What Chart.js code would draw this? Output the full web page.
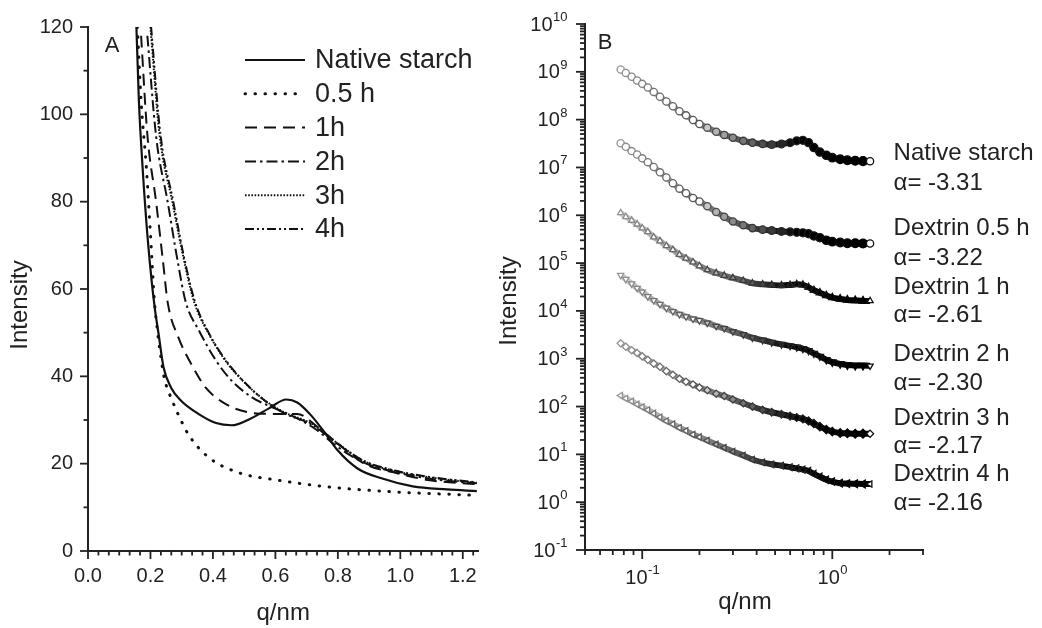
<!DOCTYPE html>
<html>
<head>
<meta charset="utf-8">
<script src="https://cdn.jsdelivr.net/npm/chart.js@4.4.1/dist/chart.umd.min.js"></script>
<style>
  html,body{margin:0;padding:0;background:#fff}
  #wrap{position:relative;width:1042px;height:628px;overflow:hidden;background:#fff}
  #cA{position:absolute;left:0;top:0}
  #cB{position:absolute;left:490px;top:0}
</style>
</head>
<body>
<div id="wrap">
  <canvas id="cA" width="490" height="628"></canvas>
  <canvas id="cB" width="552" height="628"></canvas>
</div>
<script>
// ── PANEL A : linear SAXS curves ────────────────────────────────────────────
const namesA = ['Native starch', '0.5 h', '1h', '2h', '3h', '4h'];
const xTicksA = [0, 0.2, 0.4, 0.6, 0.8, 1.0, 1.2];
const yTicksA = [0, 20, 40, 60, 80, 100, 120];

const qNativeA = [0.155, 0.163, 0.175, 0.19, 0.205, 0.215, 0.226, 0.242, 0.266, 0.298, 0.356, 0.41, 0.46, 0.52, 0.578, 0.635, 0.67, 0.715, 0.76, 0.8, 0.863, 0.937, 1.04, 1.15, 1.245];
const iNativeA = [120, 103, 87.6, 72.5, 61, 55, 49.7, 42, 37.4, 34.4, 31.3, 29.3, 28.8, 30.3, 32.6, 34.7, 34, 31, 26.9, 23, 18.9, 16.7, 14.8, 14.1, 13.7];
const q05A = [0.158, 0.17, 0.187, 0.2, 0.213, 0.223, 0.233, 0.244, 0.27, 0.298, 0.323, 0.387, 0.48, 0.61, 0.78, 0.99, 1.22, 1.245];
const i05A = [120, 103, 87.6, 72.5, 57, 50, 44.5, 39.7, 34.4, 29.9, 26.5, 21.4, 18, 16.2, 14.6, 13.5, 12.8, 12.7];
const q1A = [0.17, 0.19, 0.218, 0.24, 0.255, 0.29, 0.33, 0.377, 0.44, 0.51, 0.59, 0.67, 0.735, 0.8, 0.885, 0.99, 1.095, 1.245];
const i1A = [118, 95.4, 80, 66.4, 57, 48.8, 42.9, 37.4, 33.7, 31.8, 31.4, 31.4, 28.4, 24.6, 20, 17.8, 16.2, 15.3];
const q2A = [0.19, 0.218, 0.255, 0.287, 0.313, 0.356, 0.41, 0.46, 0.525, 0.59, 0.652, 0.727, 0.8, 0.885, 0.99, 1.1, 1.245];
const i2A = [118, 95, 80, 66.4, 57, 50.4, 43.6, 39, 35.2, 32.9, 31, 28, 23.8, 20.2, 18, 16.5, 15.5];
const q3A = [0.2, 0.229, 0.27, 0.308, 0.34, 0.387, 0.44, 0.505, 0.568, 0.63, 0.715, 0.8, 0.885, 0.99, 1.1, 1.245];
const i3A = [120, 95.4, 80, 66.4, 57, 49.7, 43.6, 38.3, 34.4, 31.7, 29.2, 24.6, 20.5, 18.2, 16.8, 15.6];
const q4A = [0.202, 0.232, 0.273, 0.31, 0.343, 0.39, 0.445, 0.51, 0.57, 0.63, 0.715, 0.8, 0.885, 0.99, 1.1, 1.245];
const i4A = [120, 95.4, 80, 66.4, 57, 49.5, 43.3, 38, 34.2, 31.5, 29, 24.5, 20.6, 18.3, 16.9, 15.7];

// ── PANEL B : log-log curves, stacked ───────────────────────────────────────
const namesB = ['Native starch', 'Dextrin 0.5 h', 'Dextrin 1 h', 'Dextrin 2 h', 'Dextrin 3 h', 'Dextrin 4 h'];
const alphaB = ['α= -3.31', 'α= -3.22', 'α= -2.61', 'α= -2.30', 'α= -2.17', 'α= -2.16'];
const yExpB = [-1, 0, 1, 2, 3, 4, 5, 6, 7, 8, 9, 10];
const xExpB = [-1, 0];

const qB = [0.077, 0.082, 0.088, 0.094, 0.1, 0.107, 0.115, 0.124, 0.134, 0.145, 0.157, 0.17, 0.185, 0.2, 0.22, 0.245, 0.27, 0.3, 0.34, 0.38, 0.43, 0.48, 0.54, 0.6, 0.65, 0.7, 0.75, 0.8, 0.86, 0.93, 1.0, 1.1, 1.2, 1.32, 1.45, 1.58];
const iNativeB = [1.12e9, 9.5e8, 7.9e8, 6.6e8, 5.6e8, 4.7e8, 3.8e8, 3.0e8, 2.4e8, 1.9e8, 1.5e8, 1.23e8, 9.8e7, 8.1e7, 6.8e7, 5.6e7, 4.8e7, 4.2e7, 3.6e7, 3.3e7, 3.1e7, 3.0e7, 3.1e7, 3.3e7, 3.6e7, 3.7e7, 3.3e7, 2.6e7, 2.1e7, 1.8e7, 1.6e7, 1.48e7, 1.41e7, 1.38e7, 1.36e7, 1.35e7];
const i05B = [3.2e7, 2.7e7, 2.2e7, 1.86e7, 1.55e7, 1.29e7, 1.02e7, 7.9e6, 6.2e6, 4.7e6, 3.6e6, 2.9e6, 2.3e6, 1.95e6, 1.55e6, 1.17e6, 9.3e5, 7.4e5, 6.2e5, 5.4e5, 5.0e5, 4.8e5, 4.6e5, 4.5e5, 4.4e5, 4.3e5, 4.1e5, 3.7e5, 3.4e5, 3.0e5, 2.8e5, 2.7e5, 2.6e5, 2.6e5, 2.57e5, 2.57e5];
const i1B = [1.12e6, 9.3e5, 7.8e5, 6.5e5, 5.4e5, 4.5e5, 3.5e5, 2.9e5, 2.3e5, 1.9e5, 1.5e5, 1.26e5, 1.05e5, 8.7e4, 7.2e4, 6.2e4, 5.5e4, 4.9e4, 4.3e4, 3.8e4, 3.6e4, 3.5e4, 3.4e4, 3.5e4, 3.6e4, 3.5e4, 3.1e4, 2.7e4, 2.4e4, 2.1e4, 1.9e4, 1.78e4, 1.7e4, 1.66e4, 1.62e4, 1.62e4];
const i2B = [5.6e4, 4.6e4, 3.7e4, 3.0e4, 2.5e4, 2.0e4, 1.66e4, 1.38e4, 1.15e4, 9.8e3, 8.5e3, 7.6e3, 6.8e3, 6.3e3, 5.6e3, 4.8e3, 4.3e3, 3.7e3, 3.2e3, 2.75e3, 2.45e3, 2.2e3, 2.0e3, 1.86e3, 1.74e3, 1.62e3, 1.48e3, 1.29e3, 1.12e3, 950, 850, 780, 740, 720, 720, 710];
const i3B = [2100, 1780, 1510, 1320, 1120, 950, 790, 680, 550, 460, 380, 330, 290, 250, 220, 186, 166, 141, 117, 100, 85, 76, 69, 63, 59, 55, 50, 44, 38, 33, 30, 28, 27.5, 27, 27, 27];
const i4B = [170, 148, 129, 112, 98, 85, 72, 60, 50, 43, 36, 31, 26, 23, 19.5, 16.2, 13.8, 11.5, 9.5, 7.8, 6.8, 6.2, 5.8, 5.4, 5.1, 4.8, 4.5, 3.9, 3.4, 2.95, 2.7, 2.5, 2.45, 2.43, 2.4, 2.4];

// where the text labels of panel B sit (q, intensity)
const labelQB = 2.1;
const nameAtB = [2.0e7, 5.25e5, 3.1e4, 1.26e3, 57, 3.9];
const alphaAtB = [4.7e6, 1.23e5, 7.9e3, 309, 14.8, 0.95];

const FONT = '"Liberation Sans", Arial, sans-serif';
const INK = '#222';
Chart.defaults.font.family = FONT;
Chart.defaults.color = INK;

const pts = (xs, ys) => xs.map((x, i) => ({x, y: ys[i]}));

// tick marks + free text, drawn on top of each panel
function decorPlugin(spec) {
  return {
    id: 'decor',
    afterDraw(chart) {
      const ctx = chart.ctx;
      ctx.save();
      ctx.strokeStyle = INK;
      ctx.lineWidth = 1.8;
      for (const id of Object.keys(spec.ticks)) {
        const s = chart.scales[id], t = spec.ticks[id];
        const mark = (v, len) => {
          const p = s.getPixelForValue(v);
          ctx.beginPath();
          if (s.isHorizontal()) { ctx.moveTo(p, s.top); ctx.lineTo(p, s.top + len); }
          else { ctx.moveTo(s.right, p); ctx.lineTo(s.right - len, p); }
          ctx.stroke();
        };
        t.minor.forEach(v => mark(v, t.len[1]));
        t.major.forEach(v => mark(v, t.len[0]));
      }
      spec.extra(chart, ctx);
      ctx.restore();
    }
  };
}

function text(ctx, str, x, y, size, align, rot) {
  ctx.save();
  ctx.translate(x, y);
  if (rot) ctx.rotate(rot);
  ctx.font = `${size}px ${FONT}`;
  ctx.fillStyle = INK;
  ctx.textAlign = align || 'center';
  ctx.textBaseline = 'middle';
  ctx.fillText(str, 0, 0);
  ctx.restore();
}

// "10" with a raised exponent
function pow10(ctx, e, x, y, align) {
  ctx.font = `20px ${FONT}`;
  const wb = ctx.measureText('10').width;
  ctx.font = `13px ${FONT}`;
  const we = ctx.measureText(String(e)).width;
  const x0 = align === 'right' ? x - wb - we : x - (wb + we) / 2;
  ctx.fillStyle = INK;
  ctx.textAlign = 'left';
  ctx.font = `20px ${FONT}`;
  ctx.textBaseline = 'middle';
  ctx.fillText('10', x0, y + 1);
  ctx.font = `13px ${FONT}`;
  ctx.textBaseline = 'alphabetic';
  ctx.fillText(String(e), x0 + wb + 0.5, y - 3);
}

// ── chart A ────────────────────────────────────────────────────────────────
const styleA = [
  {borderDash: [], borderWidth: 2.2},
  {borderDash: [0.5, 9.5], borderWidth: 3, borderCapStyle: 'round'},
  {borderDash: [12, 7], borderWidth: 2},
  {borderDash: [11, 4, 2.5, 4], borderWidth: 2},
  {borderDash: [1.6, 1.6], borderWidth: 2},
  {borderDash: [9, 3, 2, 3, 2, 3], borderWidth: 2},
];
const dataA = [pts(qNativeA, iNativeA), pts(q05A, i05A), pts(q1A, i1A), pts(q2A, i2A), pts(q3A, i3A), pts(q4A, i4A)];

const minorXA = [];
for (let k = 1; k < 38; k++) if (k % 6) minorXA.push(k * 0.2 / 6);
const minorYA = [10, 30, 50, 70, 90, 110];

new Chart(document.getElementById('cA'), {
  type: 'scatter',
  data: {
    datasets: dataA.map((d, i) => Object.assign({
      label: namesA[i], data: d, showLine: true, pointRadius: 0,
      borderColor: '#111', backgroundColor: '#111', cubicInterpolationMode: 'monotone', fill: false
    }, styleA[i]))
  },
  options: {
    responsive: false, animation: false, devicePixelRatio: 1,
    layout: {padding: {left: 0, top: 25, right: 8, bottom: 0}},
    plugins: {legend: {display: false}, tooltip: {enabled: false}},
    scales: {
      x: {
        type: 'linear', min: 0, max: 1.25,
        afterBuildTicks: s => { s.ticks = xTicksA.map(v => ({value: v})); },
        afterFit: s => { s.height = 77; },
        ticks: {font: {size: 20}, padding: 13, maxRotation: 0, autoSkip: false, callback: v => v.toFixed(1)},
        grid: {display: false, drawTicks: false},
        border: {display: true, color: INK, width: 2}
      },
      y: {
        type: 'linear', min: 0, max: 120,
        afterBuildTicks: s => { s.ticks = yTicksA.map(v => ({value: v})); },
        afterFit: s => { s.width = 88; },
        ticks: {font: {size: 20}, padding: 15},
        grid: {display: false, drawTicks: false},
        border: {display: true, color: INK, width: 2}
      }
    }
  },
  plugins: [decorPlugin({
    ticks: {
      x: {major: xTicksA, minor: minorXA, len: [8, 4.5]},
      y: {major: yTicksA, minor: minorYA, len: [8, 4.5]}
    },
    extra(chart, ctx) {
      const ca = chart.chartArea;
      text(ctx, 'A', ca.left + 24, ca.top + 19, 22);
      text(ctx, 'Intensity', 20, 305, 24, 'center', -Math.PI / 2);
      text(ctx, 'q/nm', (ca.left + ca.right) / 2, 613, 24);
      // legend
      chart.data.datasets.forEach((ds, i) => {
        const y = 60 + i * 33.8;
        ctx.save();
        ctx.strokeStyle = '#111';
        ctx.lineWidth = ds.borderWidth;
        ctx.lineCap = ds.borderCapStyle || 'butt';
        ctx.setLineDash(ds.borderDash);
        ctx.beginPath(); ctx.moveTo(245, y); ctx.lineTo(305, y); ctx.stroke();
        ctx.restore();
        text(ctx, ds.label, 315, y + 1, 27, 'left');
      });
    }
  })]
});

// ── chart B ────────────────────────────────────────────────────────────────
const seriesB = [iNativeB, i05B, i1B, i2B, i3B, i4B];
const markB = [
  {pointStyle: 'circle', pointRotation: 0},
  {pointStyle: 'circle', pointRotation: 0},
  {pointStyle: 'triangle', pointRotation: 0},
  {pointStyle: 'triangle', pointRotation: 180},
  {pointStyle: 'rectRot', pointRotation: 0},
  {pointStyle: 'triangle', pointRotation: -90},
];
const last = qB.length - 1;
const shade = c => {
  const t = c.dataIndex / last;
  const g = Math.round(150 * Math.pow(1 - t, 1.3));
  return c.dataIndex === last ? '#111' : `rgb(${g},${g},${g})`;
};
const fillB = c => {
  const t = c.dataIndex / last;
  if (c.dataIndex === last || t < 0.4) return '#fff';
  const g = Math.round(200 * Math.max(0, (0.68 - t) / 0.28));
  return `rgb(${g},${g},${g})`;
};
const sizeB = c => {
  const t = c.dataIndex / last;
  return c.dataIndex === last ? 3.6 : 3.6 + 0.9 * Math.max(0, t - 0.5) / 0.5;
};
const bandB = c => {
  const chart = c.chart;
  if (!chart.chartArea) return '#000';
  const xs = chart.scales.x;
  const g = chart.ctx.createLinearGradient(xs.getPixelForValue(qB[0]), 0, xs.getPixelForValue(qB[last]), 0);
  g.addColorStop(0, 'rgba(170,170,170,0.6)');
  g.addColorStop(0.45, 'rgba(80,80,80,0.9)');
  g.addColorStop(0.68, '#000');
  g.addColorStop(1, '#000');
  return g;
};

const minorYB = [];
for (let e = -1; e < 10; e++) for (let m = 2; m < 10; m++) minorYB.push(m * Math.pow(10, e));
const minorXB = [0.05, 0.06, 0.07, 0.08, 0.09, 0.2, 0.3, 0.4, 0.5, 0.6, 0.7, 0.8, 0.9, 2, 3];

new Chart(document.getElementById('cB'), {
  type: 'scatter',
  data: {
    datasets: seriesB.map((s, i) => Object.assign({
      label: namesB[i], data: pts(qB, s), showLine: true, tension: 0.3,
      borderColor: bandB, borderWidth: 6,
      pointRadius: sizeB, pointBorderWidth: 1.3,
      pointBorderColor: shade, pointBackgroundColor: fillB
    }, markB[i]))
  },
  options: {
    responsive: false, animation: false, devicePixelRatio: 1,
    layout: {padding: {left: 0, top: 24, right: 119, bottom: 0}},
    plugins: {legend: {display: false}, tooltip: {enabled: false}},
    scales: {
      x: {
        type: 'logarithmic', min: 0.05, max: 3,
        afterFit: s => { s.height = 78; },
        ticks: {display: false},
        grid: {display: false, drawTicks: false},
        border: {display: true, color: INK, width: 2}
      },
      y: {
        type: 'logarithmic', min: 0.1, max: 1e10,
        afterFit: s => { s.width = 95; },
        ticks: {display: false},
        grid: {display: false, drawTicks: false},
        border: {display: true, color: INK, width: 2}
      }
    }
  },
  plugins: [decorPlugin({
    ticks: {
      x: {major: xExpB.map(e => Math.pow(10, e)), minor: minorXB, len: [9, 5]},
      y: {major: yExpB.map(e => Math.pow(10, e)), minor: minorYB, len: [9, 5]}
    },
    extra(chart, ctx) {
      const ca = chart.chartArea, xs = chart.scales.x, ys = chart.scales.y;
      yExpB.forEach(e => pow10(ctx, e, ca.left - 18, ys.getPixelForValue(Math.pow(10, e)), 'right'));
      xExpB.forEach(e => pow10(ctx, e, xs.getPixelForValue(Math.pow(10, e)), ca.bottom + 27, 'center'));
      text(ctx, 'B', ca.left + 20, ca.top + 19, 22);
      text(ctx, 'Intensity', 19, 301, 24, 'center', -Math.PI / 2);
      text(ctx, 'q/nm', 255, 602, 24);
      const lx = xs.getPixelForValue(labelQB);
      namesB.forEach((n, i) => {
        text(ctx, n, lx, ys.getPixelForValue(nameAtB[i]), 24, 'left');
        text(ctx, alphaB[i], lx, ys.getPixelForValue(alphaAtB[i]), 24, 'left');
      });
    }
  })]
});
</script>
</body>
</html>
